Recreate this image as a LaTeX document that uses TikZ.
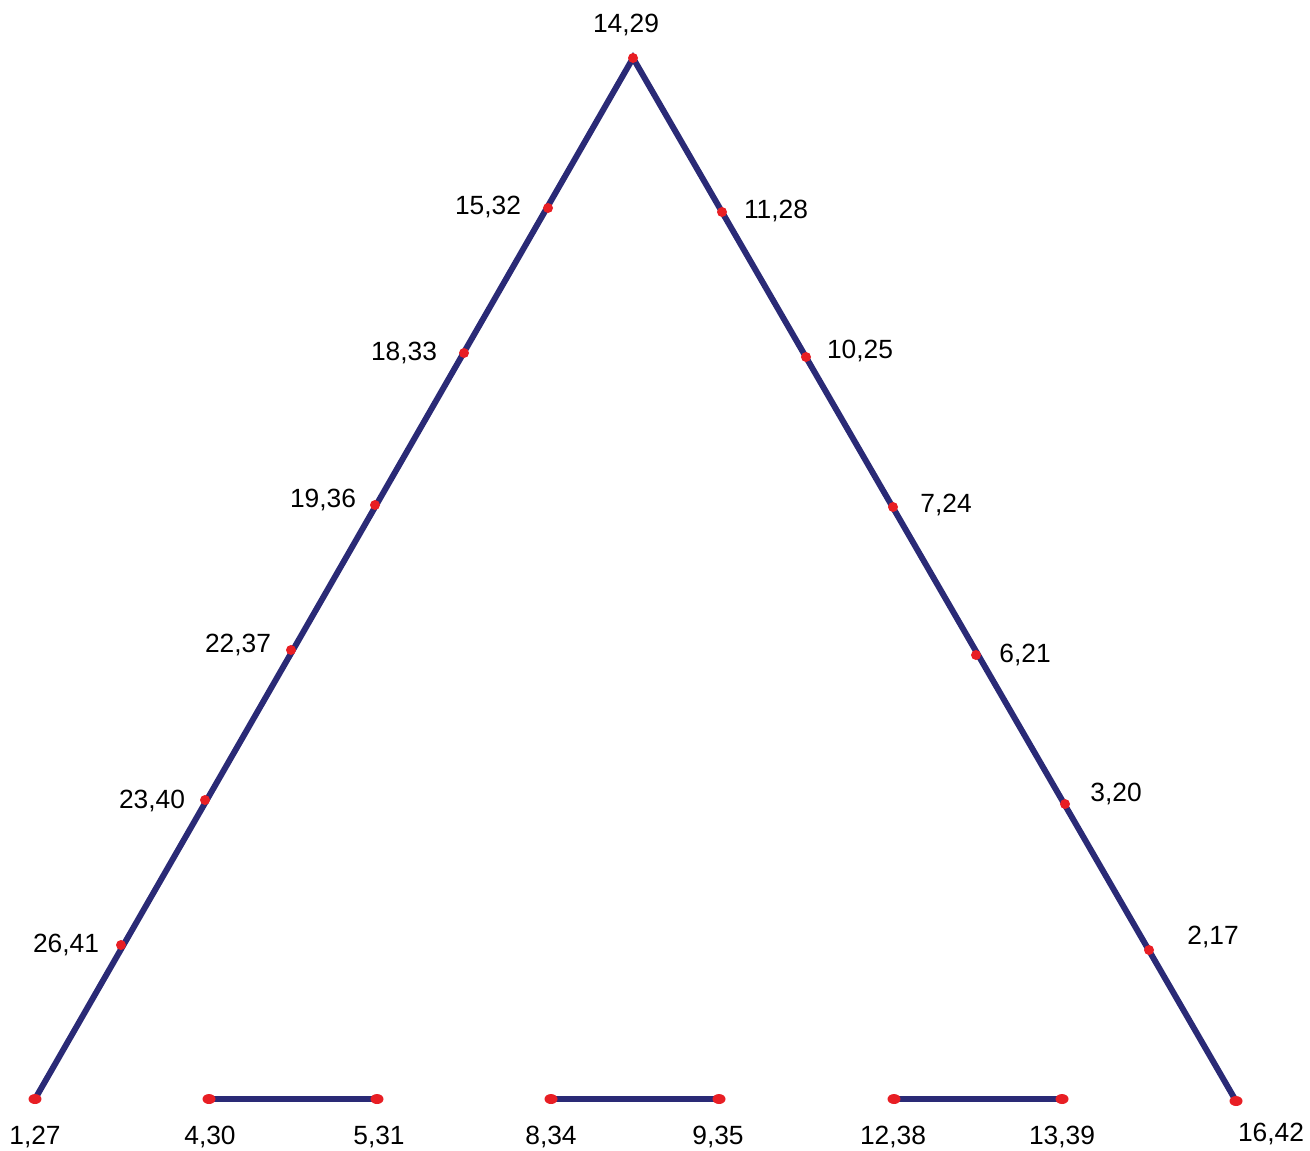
\documentclass[tikz,border=0pt]{standalone}
\usepackage{fontspec}
\setmainfont{Liberation Sans}
\usepackage{tikz}
\usetikzlibrary{positioning, shapes.geometric}

\definecolor{bar}{RGB}{42,42,118}
\definecolor{joint}{RGB}{232,30,36}

\begin{document}
\begin{tikzpicture}[x=0.02cm,y=-0.02cm]

	\tikzset{
		member/.style={
				draw=bar, line width=3.4pt
			},
		joint/.style={
				circle, fill=joint, inner sep=0pt, minimum size=0.2cm
			},
		endjoint/.style={
				ellipse, fill=joint, inner sep=0pt, minimum width=0.26cm, minimum height=0.2cm
			},
		lbl/.style={
				inner sep=1pt, font=\fontsize{15}{18}\selectfont
			},
	}
	\useasboundingbox (0,0) rectangle (1310,1150);

	\coordinate (top) at (633,58);
	\coordinate (bl) at (35,1099);
	\coordinate (br) at (1236,1101);
	\coordinate (a1) at (209,1099);
	\coordinate (a2) at (377,1099);
	\coordinate (b1) at (551,1099);
	\coordinate (b2) at (719,1099);
	\coordinate (c1) at (894,1099);
	\coordinate (c2) at (1062,1099);

	% left side
	\coordinate (l1) at (548,208);
	\coordinate (l2) at (464,353);
	\coordinate (l3) at (375,505);
	\coordinate (l4) at (291,650);
	\coordinate (l5) at (205,800);
	\coordinate (l6) at (121,945);
	% right side
	\coordinate (r1) at (722,212);
	\coordinate (r2) at (806,357);
	\coordinate (r3) at (893,507);
	\coordinate (r4) at (976,655);
	\coordinate (r5) at (1065,804);
	\coordinate (r6) at (1149,950);

	\draw[member] (bl)--(top)--(br);
	\draw[member] (a1)--(a2);
	\draw[member] (b1)--(b2);
	\draw[member] (c1)--(c2);

	\foreach \p in {top,l1,l2,l3,l4,l5,l6,r1,r2,r3,r4,r5,r6}
		\node[joint] at (\p){};
	\foreach \p in {bl,br,a1,a2,b1,b2,c1,c2}
		\node[endjoint] at (\p){};

	\node[lbl] (t-top) at (626,25){14,29};
	\node[lbl] (t-l1) at (488,207){15,32};
	\node[lbl] (t-l2) at (404,353){18,33};
	\node[lbl] (t-l3) at (323,500){19,36};
	\node[lbl] (t-l4) at (238,645){22,37};
	\node[lbl] (t-l5) at (152,801){23,40};
	\node[lbl] (t-l6) at (66,945){26,41};
	\node[lbl] (t-r1) at (776,211){11,28};
	\node[lbl] (t-r2) at (860,351){10,25};
	\node[lbl] (t-r3) at (946,505){7,24};
	\node[lbl] (t-r4) at (1025,655){6,21};
	\node[lbl] (t-r5) at (1116,794){3,20};
	\node[lbl] (t-r6) at (1213,937){2,17};
	\node[lbl] (t-bl) at (35,1137){1,27};
	\node[lbl] (t-a1) at (210,1137){4,30};
	\node[lbl] (t-a2) at (379,1137){5,31};
	\node[lbl] (t-b1) at (551,1137){8,34};
	\node[lbl] (t-b2) at (718,1137){9,35};
	\node[lbl] (t-c1) at (893,1137){12,38};
	\node[lbl] (t-c2) at (1062,1137){13,39};
	\node[lbl] (t-br) at (1271,1134){16,42};

\end{tikzpicture}
\end{document}
